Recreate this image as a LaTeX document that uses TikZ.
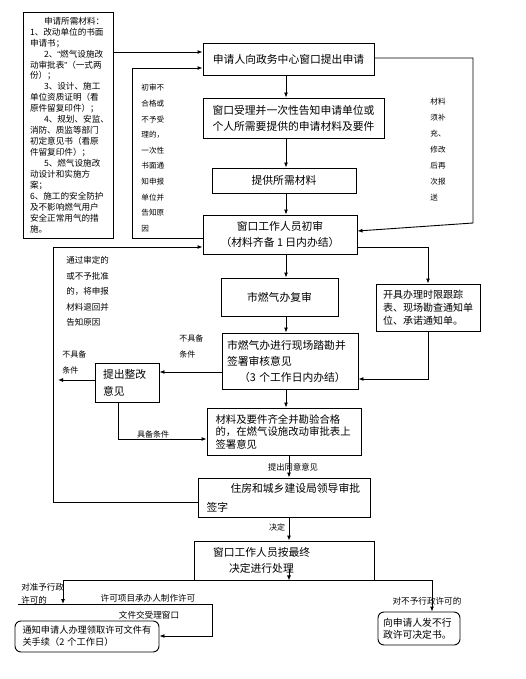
\documentclass[tikz,border=0pt]{standalone}
\usepackage{fontspec}
\setmainfont{Noto Sans CJK SC}
\newfontfamily\quotefont{Liberation Sans}
\usetikzlibrary{arrows.meta}

\begin{document}
\begin{tikzpicture}[x=1pt,y=-1pt,>={Latex[length=5pt,width=4pt]},
    every node/.style={inner sep=0pt},
    box/.style={draw,line width=0.9pt,align=center,font=\fontsize{10.8}{16}\selectfont},
    rbox/.style={box,rounded corners=6pt},
    lbl/.style={font=\fontsize{8}{16}\selectfont,align=left},
    col/.style={font=\fontsize{7.6}{15.6}\selectfont,align=left,anchor=north west},
    every path/.style={line width=0.9pt}]
  \useasboundingbox (0,0) rectangle (525,679);

  % left column: materials
  \node[box,align=left,text width=76pt,minimum width=90pt,minimum height=226pt,
        font=\fontsize{8.6}{10.95}\selectfont] (mat) at (68,125)
    {\hspace*{14pt}申请所需材料：\\1、改动单位的书面\\申请书；\\
     \hspace*{14pt}2、{\quotefont“}燃气设施改\\动审批表{\quotefont”}（一式两\\份）；\\
     \hspace*{14pt}3、设计、施工\\单位资质证明（看\\原件留复印件）；\\
     \hspace*{14pt}4、规划、安监、\\消防、质监等部门\\初定意见书（看原\\件留复印件）；\\
     \hspace*{14pt}5、燃气设施改\\动设计和实施方\\案；\\
     6、施工的安全防护\\及不影响燃气用户\\安全正常用气的措\\施。};

  % main flow
  \node[box,minimum width=171pt,minimum height=32pt] (req) at (288.5,59) {申请人向政务中心窗口提出申请};
  \node[box,minimum width=181pt,minimum height=40pt] (acc) at (293.5,118)
    {窗口受理并一次性告知申请单位或\\个人所需要提供的申请材料及要件};
  \node[box,minimum width=144pt,minimum height=25pt] (prov) at (284,180.5) {提供所需材料};
  \node[box,minimum width=154pt,minimum height=39pt] (chk) at (280,234.5)
    {窗口工作人员初审\\（材料齐备 1 日内办结）};
  \node[box,minimum width=117pt,minimum height=38pt] (rev) at (279.5,297) {市燃气办复审};
  \node[box,align=left,text width=90pt,minimum width=104pt,minimum height=47pt,
        font=\fontsize{10}{13}\selectfont] (trk) at (428,307.5)
    {开具办理时限跟踪\\表、现场勘查通知单\\位、承诺通知单。};
  \node[box,align=left,text width=126pt,minimum width=136pt,minimum height=56pt] (site) at (290,361)
    {市燃气办进行现场踏勘并\\签署审核意见\\\hspace*{12pt}（3 个工作日内办结）};
  \node[box,align=left,text width=48pt,minimum width=64pt,minimum height=39pt,
        font=\fontsize{10.8}{17}\selectfont] (fix) at (127,382.5) {提出整改\\意见};
  \node[box,align=left,text width=137pt,minimum width=154pt,minimum height=47pt,
        font=\fontsize{10.4}{12.5}\selectfont] (sign) at (284,431.5)
    {材料及要件齐全并勘验合格\\的，在燃气设施改动审批表上\\签署意见};
  \node[box,align=left,text width=155pt,minimum width=172pt,minimum height=39pt,
        font=\fontsize{10.8}{19}\selectfont] (lead) at (284,497.5)
    {\hspace*{24pt}住房和城乡建设局领导审批\\签字};
  \node[box,align=left,text width=142pt,minimum width=180pt,minimum height=39pt] (fin) at (284,560.5)
    {窗口工作人员按最终\\\hspace*{16pt}决定进行处理};
  \node[rbox,align=left,text width=72pt,minimum width=82pt,minimum height=33pt,
        font=\fontsize{9.8}{12}\selectfont] (rej) at (419,628.5)
    {向申请人发不行\\政许可决定书。};
  \node[rbox,align=left,text width=129pt,minimum width=144pt,minimum height=31pt,
        font=\fontsize{9.2}{12}\selectfont] (ntf) at (87,636.5)
    {通知申请人办理领取许可文件有\\关手续（2 个工作日）};

  % side notes
  \node[col] (nfail) at (141,84) {初审不\\合格或\\不予受\\理的，\\一次性\\书面通\\知申报\\单位并\\告知原\\因};
  \node[col,font=\fontsize{7.6}{16}\selectfont] (nadd) at (430,98) {材料\\须补\\充、\\修改\\后再\\次报\\送};
  \node[col,font=\fontsize{8.5}{15.5}\selectfont] (nback) at (66,256)
    {通过审定的\\或不予批准\\的，将申报\\材料退回并\\告知原因};
  \node[lbl,anchor=north west] (nno1) at (179,334) {不具备\\条件};
  \node[lbl,anchor=north west] (nno2) at (62,350) {不具备\\条件};
  \node[lbl] (nyes) at (153,434) {具备条件};
  \node[lbl,font=\fontsize{8.3}{12}\selectfont] (nagree) at (293,467) {提出同意意见};
  \node[lbl] (ndec) at (277,527) {决定};
  \node[lbl,anchor=north west,font=\fontsize{8.5}{12.5}\selectfont] (nok) at (21,583) {对准予行政\\许可的};
  \node[lbl,font=\fontsize{8.6}{12}\selectfont] (nmake) at (148,598) {许可项目承办人制作许可};
  \node[lbl,font=\fontsize{8.6}{12}\selectfont] (nhand) at (149,615) {文件交受理窗口};
  \node[lbl,font=\fontsize{8.6}{12}\selectfont] (nnot) at (427,601) {对不予行政许可的};

  \coordinate (axis) at (286,0);
  \coordinate (axis2) at (289,0);
  \coordinate (fixend) at (58,380);
  \coordinate (bl) at (63,580);
  \coordinate (br) at (432,580);
  \coordinate (ul) at (18,604);
  \coordinate (bend) at (212,604);

  % connectors
  \draw[->] (mat.east |- 0,52) -- (req.west |- 0,52);
  \draw[->] (chk.west |- 0,238) -| (132,68) -- (req.west |- 0,68);
  \draw[->] (req.east |- 0,58) -| (473,223) -- (chk.east |- 0,231);
  \draw[->] (axis |- req.south) -- (axis |- acc.north);
  \draw[->] (axis |- acc.south) -- (axis |- prov.north);
  \draw[->] (axis |- prov.south) -- (axis |- chk.north);
  \draw[->] (axis |- chk.south) -- (axis |- rev.north);
  \draw[->] (chk.east |- 0,247) -| (trk.north);
  \draw[->] (axis |- rev.south) -- (axis |- site.north);
  \draw[->] (trk.south) |- (site.east |- 0,379);
  \draw[->] (site.west |- 0,372) -- (fix.east |- 0,372);
  \draw[->] (fix.west |- 0,380) -- (fixend);
  \draw[->] (fix.south -| 118,0) |- (sign.west |- 0,439);
  \draw[->] (axis |- site.south) -- (axis |- sign.north);
  \draw[->] (axis2 |- sign.south) -- (axis2 |- lead.north);
  \draw[->] (lead.west |- 0,502) -| (53,247) -- (chk.west |- 0,247);
  \draw[->] (axis2 |- lead.south) -- (axis2 |- fin.north);
  \draw[->] (axis2 |- 0,569) -- (axis2 |- fin.south);
  \draw (bl) -- (br);
  \draw[->] (bl) -- (bl |- ul);
  \draw[->] (br) -- (br |- rej.north);
  \draw[->] (ul) -- (bend) |- (ntf.east |- 0,636);
\end{tikzpicture}
\end{document}
